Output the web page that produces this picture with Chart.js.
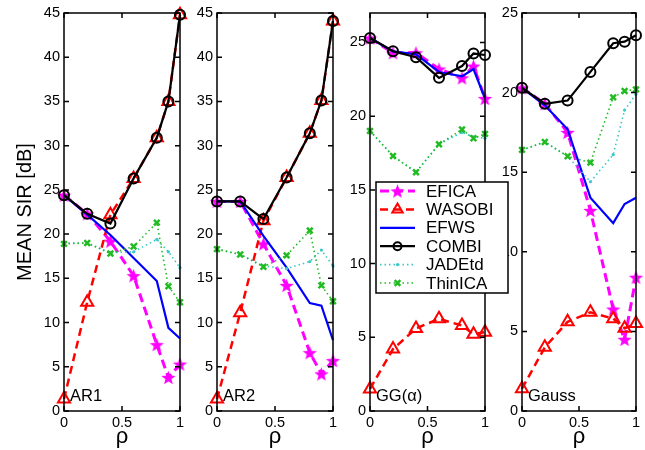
<!DOCTYPE html>
<html>
<head>
<meta charset="utf-8">
<script src="https://cdn.jsdelivr.net/npm/chart.js@4.4.0/dist/chart.umd.min.js"></script>
<style>
html, body { margin: 0; padding: 0; background: #fff; }
#wrap { position: relative; width: 645px; height: 450px; }
#wrap canvas { position: absolute; left: 0; top: 0; }
</style>
</head>
<body>
<div id="wrap">
  <canvas id="p1" width="645" height="450"></canvas>
  <canvas id="p2" width="645" height="450"></canvas>
  <canvas id="p4" width="645" height="450"></canvas>
  <canvas id="p3" width="645" height="450"></canvas>
</div>
<script>
// x values (rho) shared by all panels
const rho = [0, 0.2, 0.4, 0.6, 0.8, 0.9, 1];
const methods = ['EFICA', 'WASOBI', 'EFWS', 'COMBI', 'JADEtd', 'ThinICA'];
const panelLabels = ['AR1', 'AR2', 'GG(\u03b1)', 'Gauss'];
const xTicks = [0, 0.5, 1];
const yTicksAR = [0, 5, 10, 15, 20, 25, 30, 35, 40, 45];
const yTicksGG = [0, 5, 10, 15, 20, 25];

// AR1
const ar1Efica  = [24.4, 22.3, 19.2, 15.3, 7.5, 3.8, 5.3];
const ar1Wasobi = [1.35, 12.3, 22.2, 26.3, 30.9, 35.0, 44.8];
const ar1Efws   = [24.4, 22.2, 19.9, 17.3, 14.7, 9.4, 8.2];
const ar1Combi  = [24.4, 22.3, 21.2, 26.3, 30.9, 35.0, 44.8];
const ar1Jade   = [19.0, 19.0, 17.9, 18.0, 19.4, 18.0, 16.2];
const ar1Thin   = [18.9, 19.0, 17.8, 18.6, 21.3, 14.1, 12.3];

// AR2
const ar2Efica  = [23.7, 23.7, 18.9, 14.2, 6.6, 4.2, 5.7];
const ar2Wasobi = [1.35, 11.1, 21.5, 26.4, 31.4, 35.1, 44.1];
const ar2Efws   = [23.7, 23.7, 19.8, 16.2, 12.2, 11.9, 8.0];
const ar2Combi  = [23.7, 23.7, 21.7, 26.4, 31.4, 35.1, 44.1];
const ar2Jade   = [18.3, 17.7, 16.4, 16.1, 16.9, 18.2, 16.4];
const ar2Thin   = [18.3, 17.7, 16.3, 17.6, 20.4, 14.2, 12.4];

// GG(alpha)
const ggEfica  = [25.3, 24.3, 24.3, 23.2, 22.6, 23.4, 21.2];
const ggWasobi = [1.5, 4.2, 5.6, 6.25, 5.8, 5.2, 5.35];
const ggEfws   = [25.3, 24.4, 24.2, 23.0, 22.7, 23.2, 21.2];
const ggCombi  = [25.3, 24.4, 24.0, 22.6, 23.4, 24.25, 24.15];
const ggJade   = [19.0, 17.3, 16.2, 18.1, 18.9, 18.6, 18.5];
const ggThin   = [19.0, 17.3, 16.2, 18.1, 19.1, 18.5, 18.8];

// Gauss
const gaussEfica  = [20.3, 19.3, 17.5, 12.6, 6.4, 4.5, 8.4];
const gaussWasobi = [1.4, 4.0, 5.6, 6.2, 5.8, 5.2, 5.5];
const gaussEfws   = [20.3, 19.2, 17.7, 13.4, 11.8, 13.0, 13.4];
const gaussCombi  = [20.3, 19.3, 19.5, 21.3, 23.1, 23.2, 23.6];
const gaussJade   = [16.4, 16.9, 16.0, 14.4, 16.1, 18.9, 19.9];
const gaussThin   = [16.4, 16.9, 16.0, 15.6, 19.7, 20.1, 20.2];

Chart.defaults.font.family = "'Liberation Sans', Arial, Helvetica, sans-serif";
Chart.defaults.color = '#000';

function makeStar(r, color) {
    const s = Math.ceil(r * 2 + 2);
    const c = document.createElement('canvas');
    c.width = s;
    c.height = s;
    const g = c.getContext('2d');
    g.beginPath();
    for (let i = 0; i < 10; i++) {
        const rad = i % 2 ? r * 0.42 : r;
        const a = -Math.PI / 2 + i * Math.PI / 5;
        g.lineTo(s / 2 + rad * Math.cos(a), s / 2 + rad * Math.sin(a) + 0.8);
    }
    g.closePath();
    g.fillStyle = color;
    g.fill();
    return c;
}

const starImg = makeStar(7.5, '#ff00ff');

const styles = {
    EFICA:   { color: '#ff00ff', width: 3, dash: [9, 5], point: starImg, radius: 7, pbw: 1, fill: '#ff00ff', order: 6 },
    WASOBI:  { color: '#ff0000', width: 2.5, dash: [8, 5], point: 'triangle', radius: 7, pbw: 2, fill: 'rgba(0,0,0,0)', order: 5 },
    EFWS:    { color: '#0000ff', width: 2.2, dash: [], point: false, radius: 0, pbw: 0, fill: '#0000ff', order: 4 },
    COMBI:   { color: '#000000', width: 2.2, dash: [], point: 'circle', radius: 5, pbw: 2, fill: 'rgba(0,0,0,0)', order: 3 },
    JADEtd:  { color: '#3cc8c8', width: 1.6, dash: [1.5, 3], point: 'circle', radius: 1.6, pbw: 0, fill: '#3cc8c8', order: 2 },
    ThinICA: { color: '#22bb22', width: 1.6, dash: [1.5, 3], point: 'crossRot', radius: 4, pbw: 2.5, fill: '#22bb22', order: 1 }
};

function makeDataset(name, ys) {
    const st = styles[name];
    return {
        label: name,
        data: rho.map((x, i) => ({ x: x, y: ys[i] })),
        borderColor: st.color,
        borderWidth: st.width,
        borderDash: st.dash,
        pointStyle: st.point,
        pointRadius: st.radius,
        pointBorderWidth: st.pbw,
        pointBorderColor: st.color,
        pointBackgroundColor: st.fill,
        tension: 0,
        clip: false,
        order: st.order
    };
}

// box with inward ticks, like the original figure
const boxPlugin = {
    id: 'box',
    afterDraw(chart) {
        const ctx = chart.ctx;
        const a = chart.chartArea;
        const xs = chart.scales.x;
        const ys = chart.scales.y;
        const tl = 5;
        ctx.save();
        ctx.strokeStyle = '#000';
        ctx.lineWidth = 1.5;
        ctx.strokeRect(a.left, a.top, a.right - a.left, a.bottom - a.top);
        ctx.beginPath();
        xs.ticks.forEach(t => {
            const px = xs.getPixelForValue(t.value);
            ctx.moveTo(px, a.bottom);
            ctx.lineTo(px, a.bottom - tl);
            ctx.moveTo(px, a.top);
            ctx.lineTo(px, a.top + tl);
        });
        ys.ticks.forEach(t => {
            const py = ys.getPixelForValue(t.value);
            ctx.moveTo(a.left, py);
            ctx.lineTo(a.left + tl, py);
            ctx.moveTo(a.right, py);
            ctx.lineTo(a.right - tl, py);
        });
        ctx.stroke();

        const label = chart.options.plugins.panelLabel.text;
        ctx.font = "16.5px 'Liberation Sans', Arial, sans-serif";
        ctx.fillStyle = '#000';
        ctx.textBaseline = 'middle';
        ctx.textAlign = 'left';
        ctx.fillText(label, a.left + 6, a.bottom - 15);
        ctx.restore();
    }
};

const legendPlugin = {
    id: 'boxLegend',
    afterDraw(chart) {
        const ctx = chart.ctx;
        const bx = 376, by = 182, bw = 132, bh = 111;
        ctx.save();
        ctx.fillStyle = '#fff';
        ctx.fillRect(bx, by, bw, bh);
        ctx.strokeStyle = '#000';
        ctx.lineWidth = 1.5;
        ctx.strokeRect(bx, by, bw, bh);
        methods.forEach((m, i) => {
            const st = styles[m];
            const y = 191 + i * 18.4;
            ctx.save();
            ctx.strokeStyle = st.color;
            ctx.lineWidth = st.width;
            ctx.setLineDash(st.dash);
            ctx.beginPath();
            ctx.moveTo(380, y);
            ctx.lineTo(415, y);
            ctx.stroke();
            ctx.restore();
            if (st.point) {
                ctx.save();
                ctx.strokeStyle = st.color;
                ctx.fillStyle = st.fill;
                ctx.lineWidth = st.pbw;
                Chart.helpers.drawPoint(ctx, {
                    pointStyle: st.point,
                    rotation: 0,
                    radius: m === 'WASOBI' ? 6 : (m === 'COMBI' ? 4 : st.radius),
                    borderWidth: st.pbw
                }, 397.5, y);
                ctx.restore();
            }
            ctx.font = "17px 'Liberation Sans', Arial, sans-serif";
            ctx.fillStyle = '#000';
            ctx.textBaseline = 'middle';
            ctx.textAlign = 'left';
            ctx.fillText(m, 426, y + 1);
        });
        ctx.restore();
    }
};

function initPanel(id, left, right, ymax, label, series, withTitle, extraPlugins) {
    const yw = withTitle ? left : 40;
    const datasets = methods.map((m, i) => makeDataset(m, series[i]));
    return new Chart(document.getElementById(id), {
        type: 'line',
        data: { datasets: datasets },
        options: {
            responsive: false,
            animation: false,
            layout: {
                padding: { left: left - yw, right: 645 - right, top: 13, bottom: 0 }
            },
            scales: {
                x: {
                    type: 'linear',
                    min: 0,
                    max: 1,
                    ticks: {
                        padding: 3,
                        maxRotation: 0,
                        font: { size: 14.5 },
                        color: '#000',
                        callback: v => `${v}`
                    },
                    grid: { display: false, drawTicks: false },
                    border: { display: false },
                    title: { display: true, text: '\u03c1', font: { size: 22 }, padding: { top: 0, bottom: 0 } },
                    afterBuildTicks: s => {
                        s.ticks = xTicks.map(v => ({ value: v }));
                    },
                    afterFit: s => { s.height = 39; }
                },
                y: {
                    type: 'linear',
                    min: 0,
                    max: ymax,
                    ticks: { padding: 4, font: { size: 14.5 }, color: '#000' },
                    grid: { display: false, drawTicks: false },
                    border: { display: false },
                    title: {
                        display: withTitle,
                        text: 'MEAN SIR [dB]',
                        font: { size: 20 },
                        padding: { top: 13, bottom: 0 }
                    },
                    afterBuildTicks: s => {
                        const allowed = ymax > 30 ? yTicksAR : yTicksGG;
                        s.ticks = allowed.map(v => ({ value: v }));
                    },
                    afterFit: s => { s.width = yw; }
                }
            },
            plugins: {
                legend: { display: false },
                tooltip: { enabled: false },
                panelLabel: { text: label }
            }
        },
        plugins: [boxPlugin].concat(extraPlugins || [])
    });
}

initPanel('p1', 64, 180, 45, panelLabels[0],
    [ar1Efica, ar1Wasobi, ar1Efws, ar1Combi, ar1Jade, ar1Thin], true);
initPanel('p2', 217, 333, 45, panelLabels[1],
    [ar2Efica, ar2Wasobi, ar2Efws, ar2Combi, ar2Jade, ar2Thin], false);
initPanel('p4', 522, 638, 25, panelLabels[3],
    [gaussEfica, gaussWasobi, gaussEfws, gaussCombi, gaussJade, gaussThin], false);
initPanel('p3', 370, 485, 27, panelLabels[2],
    [ggEfica, ggWasobi, ggEfws, ggCombi, ggJade, ggThin], false, [legendPlugin]);
</script>
</body>
</html>
